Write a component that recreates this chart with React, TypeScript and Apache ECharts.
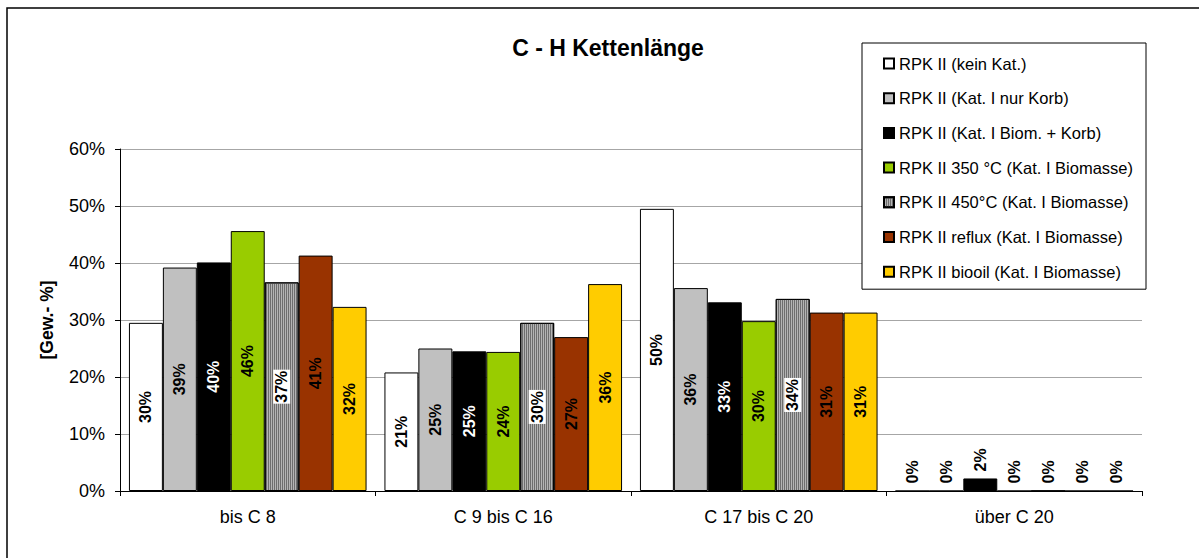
import React, { useEffect, useRef } from "react";
import * as echarts from "echarts";

const categories = ["bis C 8", "C 9 bis C 16", "C 17 bis C 20", "über C 20"];
const seriesNames = [
  "RPK II (kein Kat.)",
  "RPK II (Kat. I nur Korb)",
  "RPK II (Kat. I Biom. + Korb)",
  "RPK II 350 °C (Kat. I Biomasse)",
  "RPK II 450°C (Kat. I Biomasse)",
  "RPK II reflux (Kat. I Biomasse)",
  "RPK II biooil (Kat. I Biomasse)",
];
const keinKat = [29.5, 20.8, 49.5, 0];
const nurKorb = [39.2, 25.0, 35.6, 0];
const biomKorb = [40.1, 24.5, 33.1, 2.2];
const t350 = [45.6, 24.4, 29.8, 0];
const t450 = [36.6, 29.5, 33.7, 0];
const reflux = [41.3, 27.0, 31.3, 0];
const biooil = [32.3, 36.3, 31.3, 0];
const yTicks = [0, 10, 20, 30, 40, 50, 60];

const seriesValues = [keinKat, nurKorb, biomKorb, t350, t450, reflux, biooil];
const colors = ["#ffffff", "#c0c0c0", "#000000", "#99cc00", "#b4b4b4", "#993300", "#ffcc00"];
const labelColors = ["#000", "#000", "#fff", "#000", "#000", "#000", "#000"];

const FONT = "'Liberation Sans', Arial, sans-serif";

export default function App() {
  const ref = useRef<HTMLDivElement>(null);
  useEffect(() => {
    document.body.style.margin = "0";
    const chart = echarts.init(ref.current!, null, { renderer: "svg" });
    const series = seriesValues.map((vals, i) => ({
      type: "bar",
      name: seriesNames[i],
      barGap: "0%",
      barCategoryGap: "7%",
      itemStyle: {
        color: colors[i],
        borderColor: "#000",
        borderWidth: 1,
        ...(i === 4
          ? {
              decal: {
                symbol: "rect",
                symbolSize: 1,
                color: "#6e6e6e",
                backgroundColor: "#c8c8c8",
                dashArrayX: [1, 1],
                dashArrayY: [4, 0],
                rotation: 0,
              },
            }
          : {}),
      },
      data: vals.map((v) => {
        const small = v < 5;
        return {
          value: v,
          label: small
            ? {
                show: true,
                position: "top",
                rotate: 90,
                align: "left",
                verticalAlign: "middle",
                distance: 7,
                color: "#000",
                backgroundColor: "transparent",
                padding: 0,
              }
            : undefined,
        };
      }),
      label: {
        show: true,
        position: "inside",
        rotate: 90,
        align: "center",
        verticalAlign: "middle",
        fontFamily: FONT,
        fontWeight: "bold",
        fontSize: 16,
        color: labelColors[i],
        formatter: (p: any) => Math.round(p.value) + "%",
        ...(i === 4 ? { backgroundColor: "#fff", padding: [1, 1, 0, 1] } : {}),
      },
    }));

    chart.setOption({
      animation: false,
      textStyle: { fontFamily: FONT },
      title: {
        text: "C - H Kettenlänge",
        left: 603,
        top: 31,
        textAlign: "center",
        textStyle: { fontFamily: FONT, fontSize: 23, fontWeight: "bold", color: "#000" },
      },
      legend: {
        orient: "vertical",
        left: 862,
        top: 43,
        padding: [12, 13, 9, 21],
        itemGap: 17.7,
        itemWidth: 10,
        itemHeight: 10,
        borderColor: "#000",
        borderWidth: 1,
        backgroundColor: "#fff",
        icon: "rect",
        textStyle: { fontFamily: FONT, fontSize: 16.5, color: "#000", lineHeight: 16 },
        data: seriesNames,
      },
      grid: { left: 120, right: 57, top: 149, bottom: 67 },
      xAxis: {
        type: "category",
        data: categories,
        axisLine: { lineStyle: { color: "#000", width: 1 } },
        axisTick: { show: true, alignWithLabel: false, length: 5, lineStyle: { color: "#000" } },
        axisLabel: { fontFamily: FONT, fontSize: 18, color: "#000", margin: 17 },
      },
      yAxis: {
        type: "value",
        min: yTicks[0],
        max: yTicks[yTicks.length - 1],
        interval: 10,
        name: "[Gew.- %]",
        nameLocation: "middle",
        nameGap: 64,
        nameTextStyle: { fontFamily: FONT, fontSize: 17.5, fontWeight: "bold", color: "#000" },
        axisLine: { show: true, lineStyle: { color: "#000", width: 1 } },
        axisTick: { show: true, length: 5, lineStyle: { color: "#000" } },
        axisLabel: {
          fontFamily: FONT,
          fontSize: 18,
          color: "#000",
          margin: 15,
          formatter: "{value}%",
        },
        splitLine: { show: true, lineStyle: { color: "#a6a6a6", width: 1 } },
      },
      graphic: [
        {
          type: "rect",
          shape: { x: 7, y: 8, width: 1250, height: 600 },
          style: { fill: "none", stroke: "#000", lineWidth: 1.5 },
          silent: true,
          z: -1,
        },
      ],
      series,
    });
    return () => chart.dispose();
  }, []);
  return (
    <div
      ref={ref}
      style={{ position: "fixed", left: 0, top: 0, width: 1199, height: 558, background: "#fff" }}
    />
  );
}
